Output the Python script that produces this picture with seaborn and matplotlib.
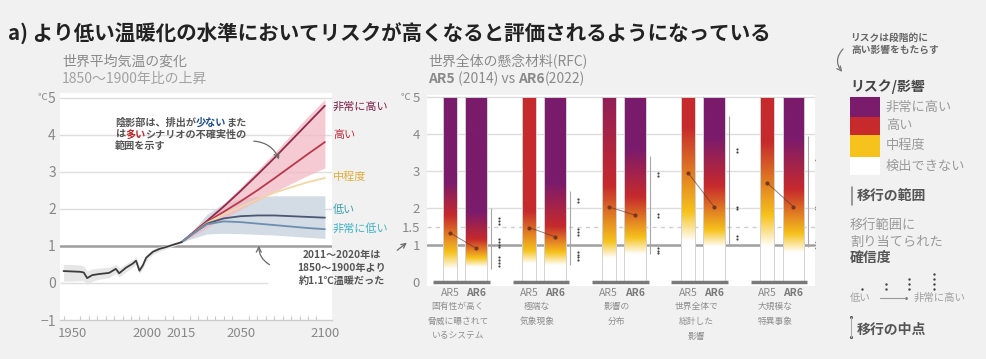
import numpy as np
import pandas as pd
import matplotlib
matplotlib.use("Agg")
import matplotlib.pyplot as plt
from matplotlib.patches import Rectangle, FancyArrowPatch
from matplotlib.colors import to_rgb
from matplotlib import transforms
import seaborn as sns

sns.set_theme(style="white")
plt.rcParams["font.family"] = ["Noto Sans CJK JP", "DejaVu Sans"]
plt.rcParams["axes.unicode_minus"] = True

# ---------------- data: global surface temperature (°C above 1850–1900) ----------------
hist_years = [1945, 1950, 1955, 1957, 1959, 1962, 1966, 1972, 1976, 1978, 1982,
              1986, 1988, 1990, 1992, 1994, 1998, 2002, 2006, 2010, 2015]
hist_temp = [0.32, 0.31, 0.30, 0.28, 0.13, 0.21, 0.24, 0.27, 0.38, 0.26, 0.41,
             0.52, 0.60, 0.33, 0.47, 0.68, 0.84, 0.92, 0.97, 1.03, 1.10]
hist_low = [0.05, 0.05, 0.06, 0.06, -0.05, 0.05, 0.10, 0.14, 0.26, 0.16, 0.30,
            0.42, 0.50, 0.25, 0.40, 0.60, 0.77, 0.86, 0.92, 0.99, 1.07]
hist_high = [0.50, 0.50, 0.48, 0.46, 0.32, 0.38, 0.40, 0.42, 0.50, 0.40, 0.52,
             0.62, 0.70, 0.45, 0.56, 0.76, 0.91, 0.98, 1.02, 1.07, 1.13]

proj_years = [2015, 2020, 2030, 2040, 2050, 2060, 2070, 2080, 2090, 2100]
scenarios = ["非常に高い", "高い", "中程度", "低い", "非常に低い"]
very_high = [1.10, 1.29, 1.67, 2.06, 2.48, 2.92, 3.37, 3.84, 4.31, 4.78]
high = [1.10, 1.28, 1.64, 1.92, 2.20, 2.50, 2.82, 3.15, 3.48, 3.80]
intermediate = [1.10, 1.27, 1.62, 1.85, 2.05, 2.25, 2.43, 2.58, 2.72, 2.83]
low = [1.10, 1.27, 1.60, 1.74, 1.80, 1.82, 1.82, 1.80, 1.78, 1.76]
very_low = [1.10, 1.27, 1.58, 1.66, 1.64, 1.60, 1.56, 1.52, 1.48, 1.45]
high_band_lo = [1.10, 1.22, 1.48, 1.74, 1.98, 2.22, 2.45, 2.68, 2.90, 3.10]
high_band_hi = [1.10, 1.31, 1.72, 2.14, 2.58, 3.04, 3.51, 4.00, 4.50, 4.95]
low_band_lo = [1.10, 1.18, 1.32, 1.34, 1.33, 1.31, 1.29, 1.26, 1.23, 1.20]
low_band_hi = [1.10, 1.33, 1.85, 2.15, 2.28, 2.33, 2.35, 2.35, 2.35, 2.35]

# ---------------- data: reasons for concern ----------------
rfc_labels = ["固有性が高く\n脅威に曝されて\nいるシステム", "極端な\n気象現象",
              "影響の\n分布", "世界全体で\n総計した\n影響", "大規模な\n特異事象"]
# colour levels (°C): end of undetectable, full moderate, full high, full very high
ar5_white = [0.35, 0.50, 0.65, 1.10, 0.95]
ar5_yellow = [0.80, 0.85, 1.10, 1.90, 1.80]
ar5_red = [1.80, 1.90, 2.60, 4.20, 3.80]
ar5_purple = [2.70, np.nan, 6.00, np.nan, np.nan]
ar6_white = [0.40, 0.45, 0.75, 0.95, 0.80]
ar6_yellow = [0.65, 0.80, 1.20, 1.40, 1.30]
ar6_red = [1.15, 1.50, 2.30, 2.60, 2.50]
ar6_purple = [1.90, 2.70, 3.60, 3.90, 3.90]
ar5_mid = [1.33, 1.47, 2.03, 2.95, 2.67]
ar6_mid = [0.91, 1.22, 1.81, 2.03, 2.03]
conf_lo = [0.35, 0.45, 0.75, 1.00, 0.95]
conf_hi = [2.00, 2.45, 3.40, 4.50, 3.95]
conf_levels = [[1.65, 1.05, 0.55], [2.20, 1.35, 0.70], [2.90, 1.80, 0.85],
               [3.55, 2.00, 1.20], [3.30, 2.00, 1.00]]
conf_dots = [[3, 4, 4], [2, 3, 4], [2, 2, 3], [2, 2, 2], [1, 2, 3]]

legend_labels = ["非常に高い", "高い", "中程度", "検出できない"]

# ---------------- colours ----------------
WHITE, YELLOW, RED, PURPLE = (to_rgb(c) for c in ("#ffffff", "#f6c21c", "#c62a2c", "#7a1b6c"))
line_colors = {"非常に高い": "#8e2a4a", "高い": "#b9384c", "中程度": "#f1d7a6",
               "低い": "#4b5672", "非常に低い": "#6d8fae"}
label_colors = {"非常に高い": "#7a1e45", "高い": "#c42a3a", "中程度": "#dfae3c",
                "低い": "#3aa0b0", "非常に低い": "#3eb2c2"}
GRAY_TXT = "#8a8a8a"

W, H = 987, 359
fig = plt.figure(figsize=(W / 100, H / 100), dpi=100, facecolor="#f1f1f1")


def px_axes(x0, y0, x1, y1):
    return fig.add_axes([x0 / W, 1 - y1 / H, (x1 - x0) / W, (y1 - y0) / H])


# ================= left panel =================
ax1 = px_axes(60, 93.1, 332, 320)
ax1.set_facecolor("white")
xl1 = (1942.9, 2104.2)
for v in [2, 3, 4, 5]:
    ax1.axhline(v, color="#dedede", lw=1, zorder=0)
ax1.hlines(0, xl1[0], 2066, color="#dedede", lw=1, zorder=0)
ax1.axhline(1, color="#9d9d9d", lw=1.8, zorder=0.5)

ax1.fill_between(hist_years, hist_low, hist_high, color="#e6e6e6", lw=0, zorder=1)
ax1.fill_between(proj_years, low_band_lo, low_band_hi, color="#d3dbe5", lw=0, zorder=1)
ax1.fill_between(proj_years, high_band_lo, high_band_hi, color="#f3b9c3", alpha=0.75, lw=0, zorder=2)

hist_df = pd.DataFrame({"year": hist_years, "temp": hist_temp})
sns.lineplot(data=hist_df, x="year", y="temp", color="#3c3c3c", lw=1.3,
             estimator=None, ax=ax1, zorder=4)
proj_df = pd.DataFrame({
    "year": proj_years * 5,
    "temp": very_high + high + intermediate + low + very_low,
    "scenario": np.repeat(scenarios, len(proj_years)),
})
sns.lineplot(data=proj_df, x="year", y="temp", hue="scenario", hue_order=scenarios,
             palette=line_colors, lw=1.3, estimator=None, legend=False, ax=ax1, zorder=3)

ax1.set_xlim(*xl1)
ax1.set_ylim(-1, 5.12)
ax1.set_xlabel("")
ax1.set_ylabel("")
ax1.set_yticks([-1, 0, 1, 2, 3, 4, 5])
ax1.set_yticklabels(["−1", "0", "1", "2", "3", "4", "5"])
ax1.tick_params(axis="y", length=0, labelsize=10, labelcolor="#888888", pad=3)
ax1.set_xticks([1950, 2000, 2015, 2050, 2100])
ax1.set_xticks(range(1945, 2105, 5), minor=True)
ax1.tick_params(axis="x", which="major", length=0, labelsize=9.5, labelcolor="#888888", pad=5)
ax1.tick_params(axis="x", which="minor", bottom=True, length=3, direction="in",
                color="#c8c8c8", width=0.8)
lab2000 = ax1.get_xticklabels()[1]
lab2000.set_transform(lab2000.get_transform()
                      + transforms.ScaledTranslation(-0.09, 0, fig.dpi_scale_trans))
for s in ["top", "right", "left"]:
    ax1.spines[s].set_visible(False)
ax1.spines["bottom"].set_color("#cccccc")
ax1.spines["bottom"].set_linewidth(1)

# ================= right panel =================
ax2 = px_axes(427, 95.15, 815, 285.7)
ax2.set_facecolor("white")
for v in [2, 3, 4, 5]:
    ax2.axhline(v, color="#dddddd", lw=1, zorder=0)
ax2.axhline(1.5, color="#cfcfcf", lw=1, ls=(0, (3, 3)), zorder=0)
ax2.axhline(1, color="#a0a0a0", lw=1.8, zorder=0.5)

levels = np.linspace(0, 5, 500)


def risk_column(w, y, r, p):
    xp = [0.0, w, y, r]
    cols = [WHITE, WHITE, YELLOW, RED]
    if np.isfinite(p):
        xp.append(p)
        cols.append(PURPLE)
    cols = np.array(cols)
    rgb = np.stack([np.interp(levels, xp, cols[:, k]) for k in range(3)], axis=-1)
    return rgb[:, None, :]


AR5_OFF, AR5_W = -0.189, 0.176
AR6_OFF, AR6_W = 0.139, 0.277
for i in range(5):
    bars = [(AR5_OFF, AR5_W, (ar5_white[i], ar5_yellow[i], ar5_red[i], ar5_purple[i])),
            (AR6_OFF, AR6_W, (ar6_white[i], ar6_yellow[i], ar6_red[i], ar6_purple[i]))]
    for off, wd, stops in bars:
        x0 = i + off - wd / 2
        ax2.imshow(risk_column(*stops), extent=[x0, x0 + wd, 0, 5], origin="lower",
                   aspect="auto", interpolation="bilinear", zorder=2)
        ax2.add_patch(Rectangle((x0, 0), wd, 5, fill=False, ec="#d2d2d2", lw=0.7, zorder=3))
    ax2.hlines(0, i - 0.40, i + 0.315, color="#7a7a7a", lw=2.5, zorder=4)
    # transition range and confidence dots
    xc = i + AR6_OFF + AR6_W / 2 + 0.05
    ax2.vlines(xc, conf_lo[i], conf_hi[i], color="#a8a8a8", lw=0.8, zorder=3)
    for lv, n in zip(conf_levels[i], conf_dots[i]):
        ys = lv + (np.arange(n) - (n - 1) / 2) * 0.075
        ax2.scatter([xc + 0.1] * n, ys, s=2.5, color="#444444", zorder=5, linewidths=0)
    # midpoint shift AR5 -> AR6
    ax2.plot([i + AR5_OFF, i + AR6_OFF], [ar5_mid[i], ar6_mid[i]],
             color="#5a2a2a", lw=0.7, alpha=0.6, zorder=5)

mid_df = pd.DataFrame({
    "x": [i + AR5_OFF for i in range(5)] + [i + AR6_OFF for i in range(5)],
    "temp": ar5_mid + ar6_mid,
})
sns.scatterplot(data=mid_df, x="x", y="temp", s=9, color="#7a3522", linewidth=0,
                ax=ax2, zorder=6, legend=False)

for i in range(5):
    ax2.text(i + AR5_OFF, -0.30, "AR5", ha="center", va="center", fontsize=7.5,
             color="#8a8a8a", clip_on=False)
    ax2.text(i + AR6_OFF, -0.30, "AR6", ha="center", va="center", fontsize=7.5,
             color="#7a7a7a", weight="bold", clip_on=False)
    for k, line in enumerate(rfc_labels[i].split("\n")):
        ax2.text(i - 0.09, -0.65 - 0.405 * k, line, ha="center", va="center",
                 fontsize=6.3, color="#8f8f8f", clip_on=False)

ax2.set_xlim(-0.479, 4.41)
ax2.set_ylim(-0.1, 5.05)
ax2.set_xlabel("")
ax2.set_ylabel("")
ax2.set_xticks([])
ax2.set_yticks([0, 1, 1.5, 2, 3, 4, 5])
ax2.set_yticklabels(["0", "1", "1.5", "2", "3", "4", "5"])
ax2.tick_params(axis="y", length=0, labelsize=9.5, labelcolor="#888888", pad=5)
for s in ax2.spines.values():
    s.set_visible(False)

# ================= overlay for titles, notes and legend (pixel units) =================
ov = fig.add_axes([0, 0, 1, 1])
ov.set_xlim(0, W)
ov.set_ylim(H, 0)
ov.axis("off")
renderer = fig.canvas.get_renderer()


def run_text(x, y, pieces, **kw):
    for s, style in pieces:
        t = ov.text(x, y, s, **{**kw, **style})
        x += t.get_window_extent(renderer=renderer).width


ov.text(8, 34, "a) より低い温暖化の水準においてリスクが高くなると評価されるようになっている",
        fontsize=14.8, weight="bold", color="#222222", va="center")

ov.text(62, 62, "世界平均気温の変化", fontsize=10, color=GRAY_TXT, va="center")
ov.text(62, 79, "1850～1900年比の上昇", fontsize=10, color="#a2a2a2", va="center")
ov.text(38, 97, "℃", fontsize=7, color="#888888", va="center")

run_text(428, 61, [("世界全体の懸念材料(RFC)", {})], fontsize=10, color=GRAY_TXT, va="center")
run_text(428, 79, [("AR5", {"weight": "bold"}), (" (2014) vs ", {}),
                   ("AR6", {"weight": "bold"}), ("(2022)", {})],
         fontsize=10, color=GRAY_TXT, va="center")
ov.text(401, 97, "℃", fontsize=7, color="#888888", va="center")

# scenario labels at the end of the projections
for name, yp in zip(scenarios, [107, 135, 177, 210, 228]):
    ov.text(333, yp, name, fontsize=8, color=label_colors[name], va="center")

# shading note
note_kw = dict(fontsize=7.3, weight="bold", color="#555555", va="center")
run_text(115, 123, [("陰影部は、排出が", {}), ("少ない", {"color": "#1d4e89"}), ("また", {})], **note_kw)
run_text(115, 135, [("は", {}), ("多い", {"color": "#c0282a"}), ("シナリオの不確実性の", {})], **note_kw)
run_text(115, 146, [("範囲を示す", {})], **note_kw)
ov.add_patch(FancyArrowPatch((251, 141), (280, 162), connectionstyle="arc3,rad=-0.35",
                             arrowstyle="->", mutation_scale=9, color="#6a6a6a", lw=0.9))

# 2011-2020 note
for k, line in enumerate(["2011～2020年は", "1850～1900年より", "約1.1℃温暖だった"]):
    ov.text(342, 255 + 13 * k, line, fontsize=7.3, weight="bold", color="#555555",
            ha="center", va="center")
ov.add_patch(FancyArrowPatch((272, 266), (259, 243), connectionstyle="arc3,rad=-0.35",
                             arrowstyle="->", mutation_scale=9, color="#6a6a6a", lw=0.9))
ov.add_patch(FancyArrowPatch((395, 252), (409, 241), arrowstyle="->", mutation_scale=8,
                             color="#6a6a6a", lw=0.9))

# legend: risk levels
ov.text(850, 38, "リスクは段階的に", fontsize=7, weight="bold", color="#666666", va="center")
ov.text(851, 50, "高い影響をもたらす", fontsize=7, weight="bold", color="#666666", va="center")
ov.add_patch(FancyArrowPatch((845, 47), (844, 74), connectionstyle="arc3,rad=0.5",
                             arrowstyle="->", mutation_scale=8, color="#777777", lw=0.9))
ov.text(850, 87, "リスク/影響", fontsize=10, weight="bold", color="#444444", va="center")
sw_cols = [PURPLE, RED, YELLOW, WHITE]
sw_tops = [97, 117, 135, 157]
sw_bots = [117, 135, 157, 175]
for lab, col, t, b in zip(legend_labels, sw_cols, sw_tops, sw_bots):
    ov.add_patch(Rectangle((850, t), 30, b - t, color=col, lw=0))
    ov.text(886, (t + b) / 2, lab, fontsize=9.5, color="#9a9a9a", va="center")

# legend: transition range and confidence
ov.plot([852, 852], [187, 205], color="#888888", lw=1.2)
ov.text(857, 196, "移行の範囲", fontsize=10, weight="bold", color="#555555", va="center")
ov.text(850, 225, "移行範囲に", fontsize=9.5, color="#9a9a9a", va="center")
ov.text(850, 242, "割り当てられた", fontsize=9.5, color="#9a9a9a", va="center")
ov.text(850, 258, "確信度", fontsize=10, weight="bold", color="#555555", va="center")
for xs, n in zip([862, 886, 909, 934], [1, 2, 3, 4]):
    ov.scatter([xs] * n, [289 - 5 * k for k in range(n)], s=3, color="#444444", linewidths=0)
ov.text(850, 298, "低い", fontsize=7.5, color="#a0a0a0", va="center")
ov.plot([880, 905], [298, 298], color="#999999", lw=0.8)
ov.scatter([906], [298], s=4, color="#777777", linewidths=0)
ov.text(914, 298, "非常に高い", fontsize=7.5, color="#a0a0a0", va="center")

ov.plot([851, 851], [317, 337], color="#aaaaaa", lw=0.8)
ov.scatter([851, 851], [317, 337], s=5, color="#555555", linewidths=0)
ov.text(857, 330, "移行の中点", fontsize=10, weight="bold", color="#555555", va="center")

ov.set_xlim(0, W)
ov.set_ylim(H, 0)
fig.savefig("out.png", dpi=100, facecolor=fig.get_facecolor())
